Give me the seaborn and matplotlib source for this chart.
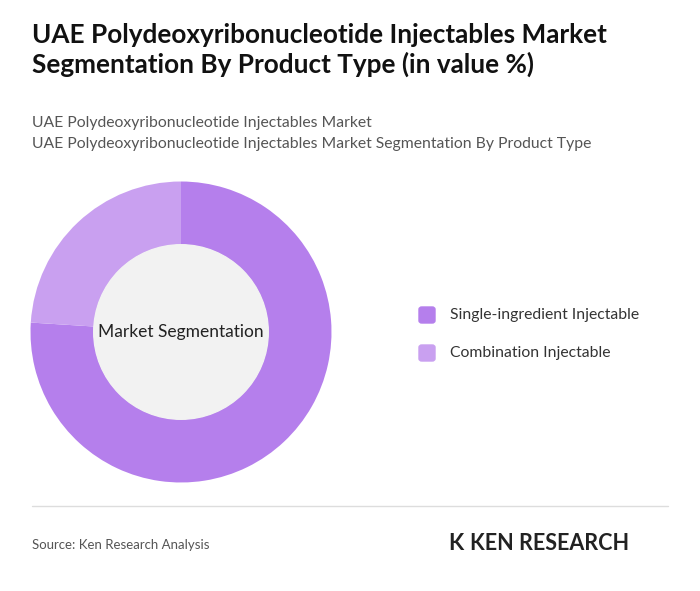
import matplotlib
matplotlib.use("Agg")
import matplotlib.pyplot as plt
import seaborn as sns

categories = ["Single-ingredient Injectable", "Combination Injectable"]
values = [76, 24]
colors = ["#b57fec", "#c9a0f0"]

sns.set_theme(style="white")
plt.rcParams['font.family'] = ['Lato', 'DejaVu Sans']

fig = plt.figure(figsize=(7, 5.91), dpi=100)
fig.patch.set_facecolor("white")

fig.text(32/700, 1-50/591, "UAE Polydeoxyribonucleotide Injectables Market\nSegmentation By Product Type (in value %)",
         fontsize=18.8, fontweight="bold", color="#111111", va="center", linespacing=1.25)
fig.text(32/700, 1-123/591, "UAE Polydeoxyribonucleotide Injectables Market", fontsize=11.3, color="#555555", va="center")
fig.text(32/700, 1-144/591, "UAE Polydeoxyribonucleotide Injectables Market Segmentation By Product Type", fontsize=11.3, color="#555555", va="center")

ax = fig.add_axes([(181-152)/700, 1-(332+152)/591, 304/700, 304/591])
ax.pie(values, colors=colors, startangle=90, counterclock=False,
       wedgeprops=dict(width=0.42, edgecolor="none"))
ax.add_patch(plt.Circle((0, 0), 0.58, color="#f2f2f2", zorder=3))
ax.text(0, 0, "Market Segmentation", ha="center", va="center", fontsize=12.5, color="#222222", zorder=4)
ax.set_aspect("equal")
ax.set_xlim(-1.01, 1.01); ax.set_ylim(-1.01, 1.01)
ax.axis("off")

for i, (c, col) in enumerate(zip(categories, colors)):
    y = 1 - (315 + 38*i)/591
    fig.patches.append(matplotlib.patches.FancyBboxPatch((419/700, y-8/591), 16/700, 16/591,
        boxstyle="round,pad=0,rounding_size=0.004", transform=fig.transFigure, color=col))
    fig.text(450/700, y, c, fontsize=11.3, color="#333333", va="center")

fig.add_artist(matplotlib.lines.Line2D([32/700, 668/700], [1-506/591]*2, color="#dddddd", lw=1))
fig.text(32/700, 1-545/591, "Source: Ken Research Analysis", fontsize=9.5, color="#555555", va="center")
fig.text(448/700, 1-543/591, "K", fontsize=16, fontweight="bold", color="#222222", va="center")
fig.text(470/700, 1-543/591, "KEN RESEARCH", fontsize=15.5, fontweight="bold", color="#222222", va="center")

fig.savefig("out.png", dpi=100, facecolor="white")
